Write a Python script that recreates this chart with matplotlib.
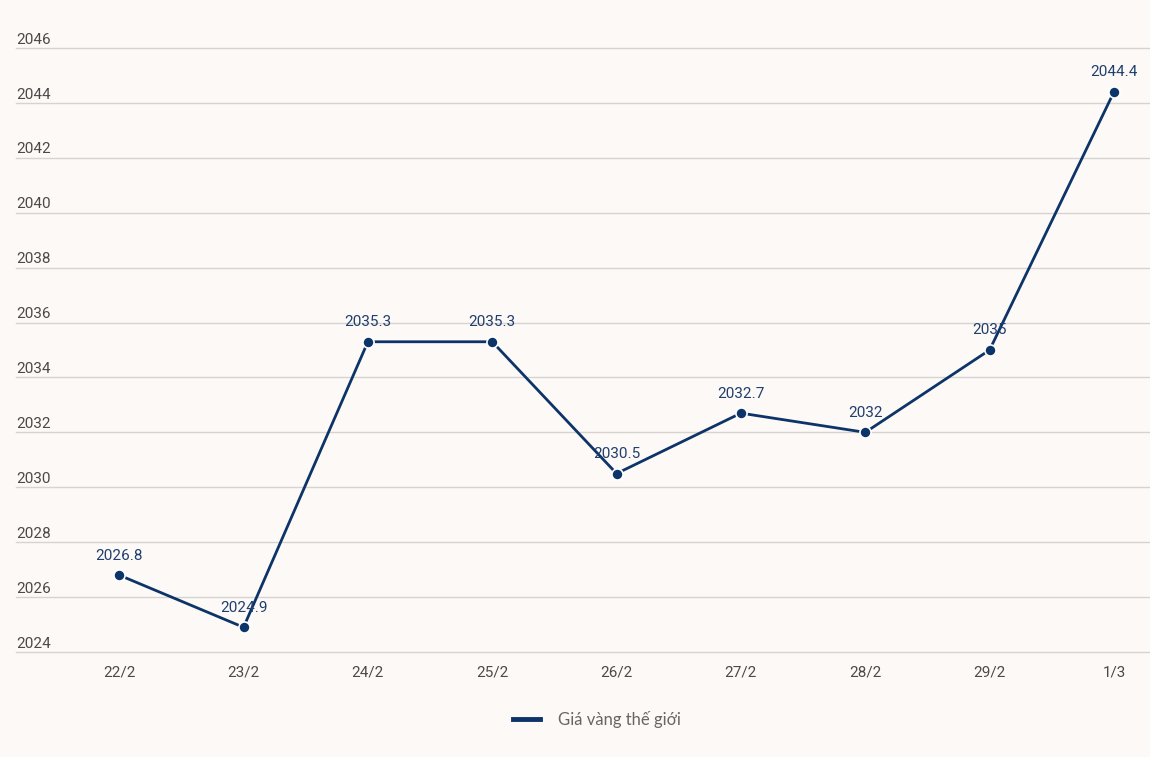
import matplotlib.pyplot as plt
import matplotlib.transforms as mtransforms
from matplotlib.lines import Line2D

dates = ['22/2', '23/2', '24/2', '25/2', '26/2', '27/2', '28/2', '29/2', '1/3']
prices = [2026.8, 2024.9, 2035.3, 2035.3, 2030.5, 2032.7, 2032, 2035, 2044.4]
price_labels = ['2026.8', '2024.9', '2035.3', '2035.3', '2030.5', '2032.7', '2032', '2035', '2044.4']
yticks = list(range(2024, 2047, 2))

bg = '#fdf9f6'
navy = '#0c3468'

fig = plt.figure(figsize=(11.5, 7.57), dpi=100, facecolor=bg)
ax = fig.add_axes([16 / 1150, 1 - 652 / 757, 1 - 16 / 1150, (652 - 48) / 757])
ax.set_facecolor(bg)

x = range(len(dates))
ax.plot(x, prices, color=navy, lw=2, marker='o', ms=8, mec='white', mew=1.2, zorder=3)
for xi, yi, lab in zip(x, prices, price_labels):
    ax.annotate(lab, (xi, yi), xytext=(0, 9), textcoords='offset points',
                ha='center', va='bottom', color='#1f3f6e', fontsize=11, family='Roboto')

ax.set_xlim(-0.83, 8.29)
ax.set_ylim(2024, 2046)
ax.set_yticks(yticks)
ax.set_xticks(list(x))
ax.set_xticklabels(dates, fontsize=11, color='#4a4a4a', family='Roboto')
ax.tick_params(axis='x', length=0, pad=10)
ax.tick_params(axis='y', length=0, labelleft=False)
ax.grid(axis='y', color='#d6d3d0', lw=1)
for gl in ax.get_ygridlines():
    gl.set_clip_on(False)
for s in ax.spines.values():
    s.set_visible(False)

# y labels sit above the gridlines at the left edge
trans = mtransforms.blended_transform_factory(ax.transAxes, ax.transData)
for t in yticks:
    ax.annotate(str(t), (0, t), xycoords=trans, xytext=(0, 1), textcoords='offset points',
                ha='left', va='bottom', fontsize=11, color='#4a4a4a', family='Roboto')

handle = Line2D([], [], color=navy, lw=3.5)
fig.legend([handle], ['Giá vàng thế giới'], loc='center', bbox_to_anchor=(597 / 1150, 1 - 719 / 757),
           frameon=False, prop={'family': 'Lato', 'size': 12}, labelcolor='#666666',
           handlelength=1.6, handletextpad=1.1)

fig.savefig('out.png', dpi=100, facecolor=bg)
